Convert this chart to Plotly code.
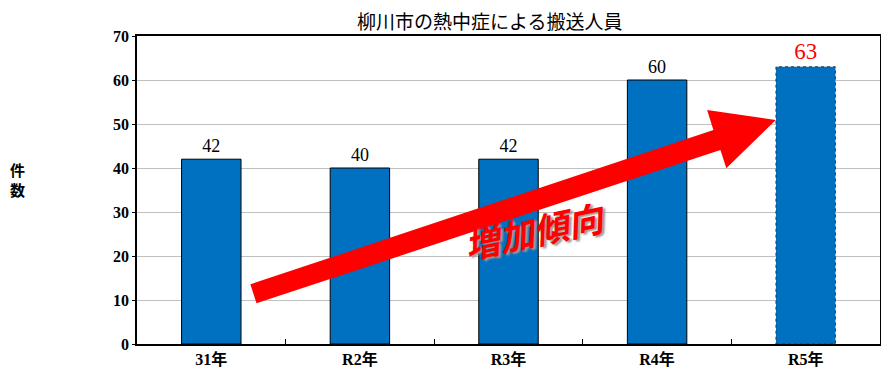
import plotly.graph_objects as go

categories = ["31年", "R2年", "R3年", "R4年", "R5年"]
values = [42, 40, 42, 60, 63]
label_colors = ["black", "black", "black", "black", "red"]
label_sizes = [18, 18, 18, 18, 23]
y_ticks = [0, 10, 20, 30, 40, 50, 60, 70]
title_text = "柳川市の熱中症による搬送人員"
y_title_chars = ["件", "数"]
trend_text = "増加傾向"

SERIF = "Liberation Serif, Noto Sans CJK JP, serif"
CJK = "Noto Sans CJK JP, sans-serif"

# page body has an 8px default margin
W, H = 881, 380

line_widths = [1, 1, 1, 1, 0]

fig = go.Figure()
fig.add_trace(go.Bar(
    x=categories,
    y=values,
    marker=dict(color="#0070C0", line=dict(color="black", width=line_widths)),
    text=[str(v) for v in values],
    textposition="outside",
    textfont=dict(family=SERIF, color=label_colors, size=label_sizes),
    cliponaxis=False,
    width=0.4,
    hoverinfo="skip",
))

# dotted border for the last bar
last = len(values) - 1
fig.add_shape(type="rect", xref="x", yref="y",
              x0=last - 0.2, x1=last + 0.2, y0=0, y1=values[last],
              line=dict(color="#333333", width=1, dash="dot"), layer="above")

# trend arrow (paper coordinates)
pts = [(0.1608, 0.1321), (0.1526, 0.1938), (0.7758, 0.6948), (0.7673, 0.7597),
       (0.8597, 0.7273), (0.7932, 0.5705), (0.7852, 0.6299)]
path = "M " + " L ".join(f"{x},{y}" for x, y in pts) + " Z"
fig.add_shape(type="path", xref="paper", yref="paper", path=path,
              fillcolor="#FF0000", line=dict(width=0), layer="above")

fig.add_annotation(xref="paper", yref="paper", x=0.535, y=0.235,
                   text=f"<b>{trend_text}</b>", showarrow=False, textangle=-12,
                   font=dict(family=CJK, size=35, color="#FF0000", style="italic",
                             shadow="2px 2px 2px #999999"))

for ch, yp in zip(y_title_chars, [0.568, 0.503]):
    fig.add_annotation(xref="paper", yref="paper", x=-0.173, y=yp,
                       text=f"<b>{ch}</b>", showarrow=False,
                       font=dict(family=CJK, size=15, color="black"))

# chart title
fig.add_annotation(xref="paper", yref="paper", x=(490 - 137) / 745, y=1,
                   xanchor="center", yanchor="bottom", yshift=0,
                   text=title_text, showarrow=False,
                   font=dict(family="Noto Sans CJK JP, serif", size=19, color="black"))

fig.update_layout(
    width=W, height=H,
    margin=dict(l=129, r=7, t=28, b=44),
    plot_bgcolor="white", paper_bgcolor="white",
    showlegend=False,
    xaxis=dict(
        showline=True, linecolor="black", linewidth=1.5, mirror=True,
        ticks="inside", tickson="boundaries", ticklen=5, tickcolor="black",
        tickfont=dict(family=SERIF, size=16, color="black", weight="bold"),
        showgrid=False,
    ),
    yaxis=dict(
        range=[0, 70], tickvals=y_ticks,
        showline=True, linecolor="black", linewidth=1.5, mirror=True,
        ticks="outside", ticklen=3, tickcolor="black",
        tickfont=dict(family=SERIF, size=16, color="black", weight="bold"),
        showgrid=True, gridcolor="#C0C0C0", gridwidth=1,
        zeroline=False,
    ),
)

fig.write_html("out.html")
